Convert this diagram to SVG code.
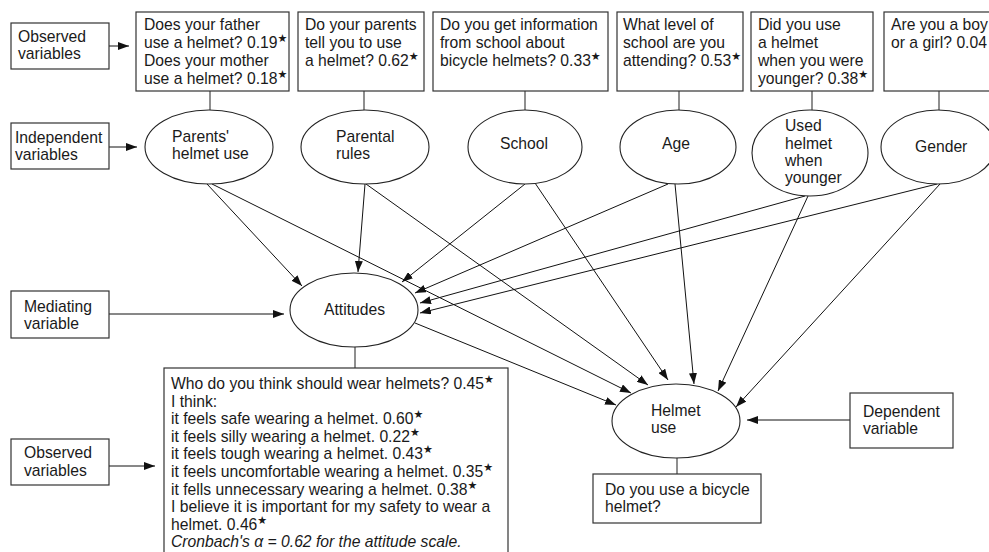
<svg xmlns="http://www.w3.org/2000/svg" width="989" height="552" viewBox="0 0 989 552">
<defs>
<marker id="ah" markerUnits="userSpaceOnUse" markerWidth="11" markerHeight="8" refX="11" refY="4" orient="auto">
<path d="M0,0 L11,4 L0,8 z" fill="#111"/>
</marker>
<style>
text{font-family:"Liberation Sans",Arial,sans-serif;font-size:15.7px;fill:#1a1a1a}
.b{fill:#fff;stroke:#333;stroke-width:1.2}
.e{fill:#fff;stroke:#222;stroke-width:1.1}
.l{stroke:#333;stroke-width:1.1;fill:none}
.a{stroke:#111;stroke-width:1;fill:none;marker-end:url(#ah)}
.s{font-family:"DejaVu Sans",sans-serif;font-size:11px}
.i{font-style:italic}
</style>
</defs>
<rect width="989" height="552" fill="#fff"/>

<g id="connectors">
<line class="l" x1="210" y1="91" x2="210" y2="110"/>
<line class="l" x1="364" y1="91" x2="364" y2="110"/>
<line class="l" x1="525" y1="91" x2="525" y2="110"/>
<line class="l" x1="679" y1="91" x2="679" y2="110"/>
<line class="l" x1="812" y1="91" x2="812" y2="110"/>
<line class="l" x1="939" y1="91" x2="939" y2="110"/>
<line class="l" x1="355" y1="347" x2="355" y2="368"/>
<line class="l" x1="677" y1="458" x2="677" y2="474"/>
<line class="a" x1="109" y1="46" x2="129" y2="46"/>
<line class="a" x1="109" y1="147" x2="137" y2="147"/>
<line class="a" x1="109" y1="314" x2="284" y2="314"/>
<line class="a" x1="109" y1="466" x2="155" y2="466"/>
<line class="a" x1="850" y1="420" x2="747" y2="420"/>
<line class="a" x1="207" y1="184" x2="302" y2="286"/>
<line class="a" x1="365" y1="184" x2="358" y2="272"/>
<line class="a" x1="525" y1="184" x2="402" y2="282"/>
<line class="a" x1="668" y1="184" x2="415" y2="293"/>
<line class="a" x1="805" y1="196" x2="420" y2="303"/>
<line class="a" x1="937" y1="184" x2="420" y2="313"/>
<line class="a" x1="415" y1="323" x2="616" y2="405"/>
<line class="a" x1="212" y1="184" x2="631" y2="393"/>
<line class="a" x1="366" y1="184" x2="648" y2="385"/>
<line class="a" x1="535" y1="183" x2="668" y2="380"/>
<line class="a" x1="675" y1="184" x2="694" y2="384"/>
<line class="a" x1="808" y1="196" x2="718" y2="391"/>
<line class="a" x1="940" y1="184" x2="736" y2="407"/>
</g>

<g id="label-observed-top">
<rect class="b" x="11" y="23" width="98" height="46"/>
<text x="18" y="42">Observed</text>
<text x="18" y="59">variables</text>
</g>
<g id="label-independent">
<rect class="b" x="11" y="123" width="98" height="46"/>
<text x="15" y="143">Independent</text>
<text x="15" y="160">variables</text>
</g>
<g id="label-mediating">
<rect class="b" x="11" y="291" width="98" height="47"/>
<text x="24" y="312">Mediating</text>
<text x="24" y="329">variable</text>
</g>
<g id="label-observed-bottom">
<rect class="b" x="11" y="439" width="98" height="46"/>
<text x="24" y="458">Observed</text>
<text x="24" y="476">variables</text>
</g>
<g id="label-dependent">
<rect class="b" x="850" y="393" width="103" height="55"/>
<text x="863" y="417">Dependent</text>
<text x="863" y="434">variable</text>
</g>

<g id="obs-parents">
<rect class="b" x="136" y="12" width="153" height="79"/>
<text x="144" y="29.5">Does your father</text>
<text x="144" y="47.5">use a helmet? 0.19<tspan class="s" dy="-6">★</tspan></text>
<text x="144" y="65.5">Does your mother</text>
<text x="144" y="83.5">use a helmet? 0.18<tspan class="s" dy="-6">★</tspan></text>
</g>
<g id="obs-rules">
<rect class="b" x="298" y="12" width="126" height="79"/>
<text x="305" y="29.5">Do your parents</text>
<text x="305" y="47.5">tell you to use</text>
<text x="305" y="65.5">a helmet? 0.62<tspan class="s" dy="-6">★</tspan></text>
</g>
<g id="obs-school">
<rect class="b" x="433" y="12" width="175" height="79"/>
<text x="440" y="29.5">Do you get information</text>
<text x="440" y="47.5">from school about</text>
<text x="440" y="65.5">bicycle helmets? 0.33<tspan class="s" dy="-6">★</tspan></text>
</g>
<g id="obs-age">
<rect class="b" x="617" y="12" width="126" height="79"/>
<text x="623" y="29.5">What level of</text>
<text x="623" y="47.5">school are you</text>
<text x="623" y="65.5">attending? 0.53<tspan class="s" dy="-6">★</tspan></text>
</g>
<g id="obs-younger">
<rect class="b" x="751" y="12" width="122" height="79"/>
<text x="758" y="29.5">Did you use</text>
<text x="758" y="47.5">a helmet</text>
<text x="758" y="65.5">when you were</text>
<text x="758" y="83.5">younger? 0.38<tspan class="s" dy="-6">★</tspan></text>
</g>
<g id="obs-gender">
<rect class="b" x="884" y="12" width="120" height="79"/>
<text x="891" y="29.5">Are you a boy</text>
<text x="891" y="47.5">or a girl? 0.04</text>
</g>

<g id="node-parents">
<ellipse class="e" cx="209" cy="147" rx="64" ry="37"/>
<text x="172" y="142">Parents'</text>
<text x="172" y="159">helmet use</text>
</g>
<g id="node-rules">
<ellipse class="e" cx="365" cy="147" rx="64" ry="37"/>
<text x="336" y="142">Parental</text>
<text x="336" y="159">rules</text>
</g>
<g id="node-school">
<ellipse class="e" cx="525" cy="147" rx="57" ry="37"/>
<text x="500" y="149">School</text>
</g>
<g id="node-age">
<ellipse class="e" cx="678" cy="147" rx="58" ry="37"/>
<text x="662" y="149">Age</text>
</g>
<g id="node-younger">
<ellipse class="e" cx="810" cy="153" rx="58" ry="43"/>
<text x="785" y="131">Used</text>
<text x="785" y="148.5">helmet</text>
<text x="785" y="166">when</text>
<text x="785" y="183">younger</text>
</g>
<g id="node-gender">
<ellipse class="e" cx="938" cy="147" rx="57" ry="37"/>
<text x="915" y="152">Gender</text>
</g>
<g id="node-attitudes">
<ellipse class="e" cx="354" cy="310" rx="64" ry="37"/>
<text x="324" y="315">Attitudes</text>
</g>
<g id="node-helmetuse">
<ellipse class="e" cx="676" cy="421" rx="64" ry="37"/>
<text x="651" y="416">Helmet</text>
<text x="651" y="433">use</text>
</g>
<g id="obs-helmetuse">
<rect class="b" x="593" y="474" width="168" height="49"/>
<text x="605" y="495">Do you use a bicycle</text>
<text x="605" y="512">helmet?</text>
</g>
<g id="obs-attitudes">
<rect class="b" x="164" y="368" width="344" height="200"/>
<text x="171" y="389">Who do you think should wear helmets? 0.45<tspan class="s" dy="-6">★</tspan></text>
<text x="171" y="406.6">I think:</text>
<text x="171" y="424.2">it feels safe wearing a helmet. 0.60<tspan class="s" dy="-6">★</tspan></text>
<text x="171" y="441.8">it feels silly wearing a helmet. 0.22<tspan class="s" dy="-6">★</tspan></text>
<text x="171" y="459.4">it feels tough wearing a helmet. 0.43<tspan class="s" dy="-6">★</tspan></text>
<text x="171" y="477">it feels uncomfortable wearing a helmet. 0.35<tspan class="s" dy="-6">★</tspan></text>
<text x="171" y="494.6">it fells unnecessary wearing a helmet. 0.38<tspan class="s" dy="-6">★</tspan></text>
<text x="171" y="512.2">I believe it is important for my safety to wear a</text>
<text x="171" y="529.8">helmet. 0.46<tspan class="s" dy="-6">★</tspan></text>
<text class="i" x="171" y="547.4">Cronbach's α = 0.62 for the attitude scale.</text>
</g>
</svg>
